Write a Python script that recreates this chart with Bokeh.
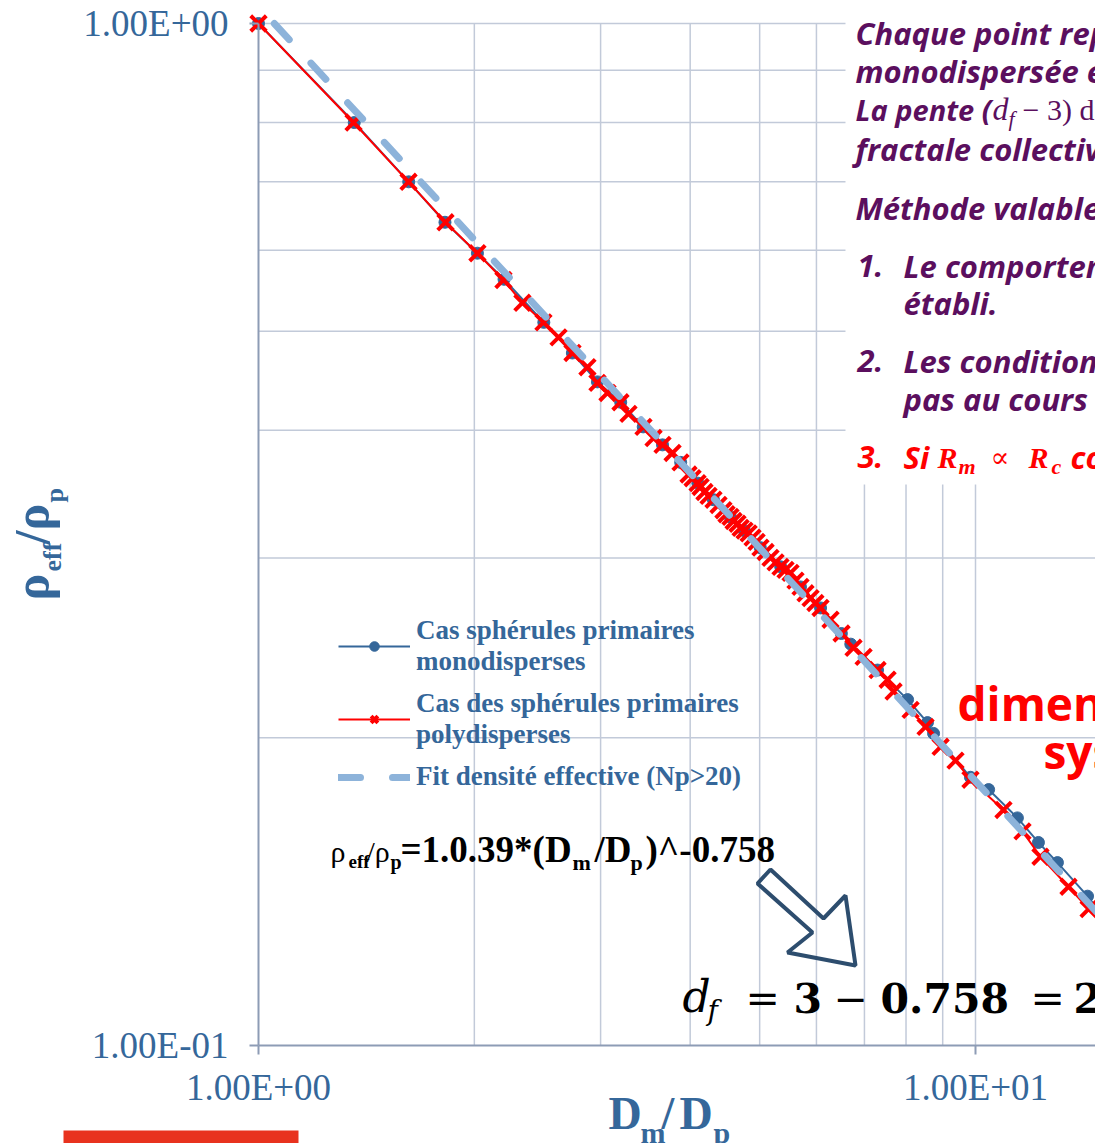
import math
from bokeh.plotting import figure
from bokeh.models import (FixedTicker, Label, BoxAnnotation, PolyAnnotation,
                          Legend, LegendItem)
from bokeh.embed import file_html
from bokeh.resources import INLINE

# ---------------- data ----------------
poly_x = [1.00, 1.357, 1.619, 1.823, 2.020, 2.196, 2.334, 2.497, 2.621, 2.741,
          2.876, 2.970, 3.067, 3.198, 3.281, 3.443, 3.556, 3.660, 3.780, 3.878,
          3.979, 4.031, 4.096, 4.136, 4.188, 4.243, 4.311, 4.381, 4.451, 4.495,
          4.553, 4.598, 4.657, 4.703, 4.763, 4.826, 4.887, 4.951, 5.013, 5.096,
          5.177, 5.262, 5.346, 5.433, 5.521, 5.610, 5.701, 5.793, 5.888, 5.980,
          6.079, 6.278, 6.504, 6.759, 6.981, 7.301, 7.540, 7.686, 8.119, 8.518,
          8.940, 9.378, 9.840, 10.94, 11.63, 12.32, 13.48, 14.38, 15.68]
poly_y = [1.000, 0.800, 0.700, 0.639, 0.596, 0.561, 0.533, 0.510, 0.493, 0.476,
          0.461, 0.445, 0.435, 0.426, 0.415, 0.403, 0.393, 0.387, 0.380, 0.372,
          0.362, 0.359, 0.355, 0.352, 0.348, 0.345, 0.342, 0.338, 0.334, 0.331,
          0.329, 0.326, 0.324, 0.321, 0.319, 0.317, 0.314, 0.311, 0.307, 0.304,
          0.300, 0.297, 0.294, 0.292, 0.290, 0.285, 0.281, 0.277, 0.274, 0.271,
          0.268, 0.261, 0.253, 0.245, 0.240, 0.233, 0.228, 0.222, 0.213, 0.205,
          0.196, 0.190, 0.182, 0.170, 0.162, 0.153, 0.143, 0.136, 0.128]

mono_x = [1.00, 1.36, 1.62, 1.82, 2.02, 2.20, 2.50, 2.74, 2.97, 3.20, 3.44,
          3.66, 3.88, 4.10, 4.31, 4.55, 4.76, 5.01, 5.35, 5.70, 6.08, 6.50,
          6.70, 7.30, 8.04, 8.57, 8.74, 9.84, 10.43, 11.44, 12.24, 13.01,
          14.33, 15.43]
mono_y = [1.000, 0.800, 0.700, 0.639, 0.596, 0.562, 0.510, 0.476, 0.446, 0.426,
          0.403, 0.387, 0.372, 0.355, 0.342, 0.329, 0.319, 0.307, 0.294, 0.281,
          0.268, 0.253, 0.247, 0.233, 0.218, 0.207, 0.202, 0.183, 0.178, 0.167,
          0.158, 0.151, 0.140, 0.131]

fit_x = [1.052, 15.0]
fit_y = [1.000, 0.1334]

x_ticks = [1, 10]
x_tick_labels = ["1.00E+00", "1.00E+01"]
y_ticks = [0.1, 1]
y_tick_labels = ["1.00E-01", "1.00E+00"]
x_minor = [2, 3, 4, 5, 6, 7, 8, 9]
y_minor = [0.2, 0.3, 0.4, 0.5, 0.6, 0.7, 0.8, 0.9]

legend_labels = ["Cas sphérules primaires\nmonodisperses",
                 "Cas des sphérules primaires\npolydisperses",
                 "Fit densité effective (Np>20)"]

# ---------------- layout: the frame is the whole canvas ----------------
W, H = 1095, 1143
DEC_X = 717.0   # px per decade, x
DEC_Y = 1022.0  # px per decade, y
PX0, PY0 = 258, 23   # canvas position of (1, 1)
K_BASE = 0.31        # baseline correction (fraction of font size)

def X(px):
    return 10 ** ((px - PX0) / DEC_X)

def Y(py):
    return 10 ** (-(py - PY0) / DEC_Y)

BLUE = "#35679a"
RED = "#ff0000"
FIT = "#8db3da"
GRID = "#c2cad9"
AXIS = "#8d9cb5"
PURPLE = "#5b0f5e"
SERIF = "Liberation Serif"
SANS = "Open Sans"

p = figure(width=W, height=H, x_axis_type="log", y_axis_type="log",
           x_range=(X(0), X(W)), y_range=(Y(H), Y(0)),
           output_backend="svg", toolbar_location=None,
           min_border=0)
p.outline_line_color = None
p.background_fill_color = "white"
p.grid.visible = False

p.xaxis.ticker = FixedTicker(ticks=x_ticks, minor_ticks=[])
p.yaxis.ticker = FixedTicker(ticks=y_ticks, minor_ticks=[])
p.xaxis.major_label_overrides = dict(zip(x_ticks, x_tick_labels))
p.yaxis.major_label_overrides = dict(zip(y_ticks, y_tick_labels))
p.xaxis.fixed_location = min(y_ticks)
p.yaxis.fixed_location = min(x_ticks)
p.xaxis.bounds = (min(x_ticks), X(W))
p.yaxis.bounds = (min(y_ticks), max(y_ticks))

for ax in (p.xaxis, p.yaxis):
    ax.axis_line_color = AXIS
    ax.axis_line_width = 2
    ax.major_tick_line_color = AXIS
    ax.major_tick_line_width = 2
    ax.major_tick_in = 0
    ax.major_tick_out = 9
    ax.minor_tick_in = 0
    ax.minor_tick_out = 0
    ax.major_label_text_font = SERIF
    ax.major_label_text_font_size = "37px"
    ax.major_label_text_color = BLUE
p.xaxis.major_label_standoff = 12
p.yaxis.major_label_standoff = 21

# grid lines from the tick arrays
gx = x_minor + [max(x_ticks)]
p.segment(x0=gx, y0=[min(y_ticks)] * len(gx), x1=gx, y1=[max(y_ticks)] * len(gx),
          line_color=GRID, line_width=1.5)
gy = y_minor + [max(y_ticks)]
p.segment(x0=[min(x_ticks)] * len(gy), y0=gy, x1=[X(W)] * len(gy), y1=gy,
          line_color=GRID, line_width=1.5)

# ---------------- series ----------------
bl = p.line(mono_x, mono_y, line_color=BLUE, line_width=2)
bc = p.scatter(mono_x, mono_y, marker="circle", size=12,
               fill_color=BLUE, line_color=BLUE)
rl = p.line(poly_x, poly_y, line_color=RED, line_width=2)
rx = p.scatter(poly_x, poly_y, marker="x", size=22, line_color=RED,
               line_width=4)
fl = p.line(fit_x, fit_y, line_color=FIT, line_width=7, line_dash="22 32",
            line_cap="round")

legend = Legend(items=[LegendItem(label=legend_labels[0], renderers=[bl, bc]),
                       LegendItem(label=legend_labels[1], renderers=[rl, rx]),
                       LegendItem(label=legend_labels[2], renderers=[fl])],
                location=(338, 351), padding=0, margin=0, spacing=11,
                glyph_width=72, glyph_height=24, label_standoff=6,
                border_line_color=None, background_fill_alpha=0,
                label_text_font=SERIF, label_text_font_style="bold",
                label_text_font_size="27px", label_text_color=BLUE,
                label_text_line_height=1.18)
p.add_layout(legend, "center")

# ---------------- annotations ----------------
p.add_layout(BoxAnnotation(left=X(845), bottom=Y(484), fill_color="white",
                           fill_alpha=1, line_color=None))
p.add_layout(BoxAnnotation(left=X(63), right=X(298), bottom=Y(H), top=Y(1130),
                           fill_color="#e8321e", fill_alpha=1, line_color=None))

def lab(px, py, text, size, color, font=SERIF, style="bold", angle=0.0):
    if angle:
        px = px - K_BASE * size
    else:
        py = py - K_BASE * size
    p.add_layout(Label(x=X(px), y=Y(py), text=text, text_font=font,
                       text_font_size=f"{size}px", text_font_style=style,
                       text_color=color, angle=angle, text_align="left",
                       text_baseline="alphabetic"))

BI = "bold italic"
lab(855, 42, "Chaque point représente une population", 31, PURPLE, SANS, BI)
lab(855, 80, "monodispersée en taille de mobilité.", 31, PURPLE, SANS, BI)
lab(855, 118, "La pente (", 29, PURPLE, SANS, BI)
lab(992, 118, "d", 32, PURPLE, SERIF, "italic")
lab(1008, 125, "f", 22, PURPLE, SERIF, "italic")
lab(1022, 118, "− 3) donne la dimension", 30, PURPLE, SERIF, "normal")
lab(855, 158, "fractale collective.", 31, PURPLE, SANS, BI)
lab(855, 217, "Méthode valable si :", 31, PURPLE, SANS, BI)
lab(857, 275, "1.", 31, PURPLE, SANS, BI)
lab(903, 275, "Le comportement asymptotique est", 31, PURPLE, SANS, BI)
lab(903, 312, "établi.", 31, PURPLE, SANS, BI)
lab(857, 370, "2.", 31, PURPLE, SANS, BI)
lab(903, 370, "Les conditions ne changent", 31, PURPLE, SANS, BI)
lab(903, 408, "pas au cours de la croissance.", 31, PURPLE, SANS, BI)
lab(857, 466, "3.", 31, RED, SANS, BI)
lab(903, 466, "Si", 31, RED, SANS, BI)
lab(937, 466, "R", 30, RED, SERIF, BI)
lab(958, 473, "m", 22, RED, SERIF, BI)
lab(990, 466, "∝", 28, RED, "DejaVu Serif", "normal")
lab(1028, 466, "R", 30, RED, SERIF, BI)
lab(1051, 473, "c", 22, RED, SERIF, BI)
lab(1070, 466, "constant", 31, RED, SANS, BI)

lab(957, 717, "dimension fractale", 46, RED, SANS, "bold")
lab(1043, 765, "système", 46, RED, SANS, "bold")

# formula
BLACK = "#000000"
lab(330, 860, "ρ", 30, BLACK, SERIF, "normal")
lab(348, 867, "eff", 19, BLACK, SERIF, "bold")
lab(366, 860, "/ρ", 30, BLACK, SERIF, "normal")
lab(390, 868, "p", 20, BLACK, SERIF, "bold")
lab(400, 860, "=1.0.39*(D", 37, BLACK, SERIF, "bold")
lab(572, 869, "m", 22, BLACK, SERIF, "bold")
lab(594, 860, "/D", 37, BLACK, SERIF, "bold")
lab(630, 869, "p", 22, BLACK, SERIF, "bold")
lab(645, 860, ")^-0.758", 37, BLACK, SERIF, "bold")

# d_f = 3 - 0.758 = 2...
DS = "DejaVu Serif"
lab(682, 1010, "d", 44, BLACK, DS, "italic")
lab(707, 1019, "f", 28, BLACK, DS, "italic")
lab(745, 1010, "=", 41, BLACK, DS, "normal")
lab(793, 1010, "3", 41, BLACK, DS, "bold")
lab(833, 1010, "−", 41, BLACK, DS, "normal")
lab(880, 1010, "0.", 41, BLACK, DS, "bold")
lab(923, 1010, "758", 41, BLACK, DS, "bold")
lab(1030, 1010, "=", 41, BLACK, DS, "normal")
lab(1073, 1010, "2.242", 41, BLACK, DS, "bold")

# arrow
p.add_layout(PolyAnnotation(
    xs=[X(757), X(770), X(823), X(845), X(855), X(787), X(812)],
    ys=[Y(883), Y(869), Y(918), Y(895), Y(965), Y(952), Y(932)],
    fill_alpha=0, line_color="#2d4d6e", line_alpha=1, line_width=4))

# axis titles
A = math.pi / 2
lab(47, 600, "ρ", 50, BLUE, SERIF, "bold", A)
lab(60, 571, "eff", 26, BLUE, SERIF, "bold", A)
lab(47, 544, "/ρ", 50, BLUE, SERIF, "bold", A)
lab(62, 502, "p", 26, BLUE, SERIF, "bold", A)

lab(608, 1127, "D", 46, BLUE, SERIF, "bold")
lab(640, 1141, "m", 30, BLUE, SERIF, "bold")
lab(661, 1127, "/", 46, BLUE, SERIF, "bold")
lab(679, 1127, "D", 46, BLUE, SERIF, "bold")
lab(713, 1141, "p", 30, BLUE, SERIF, "bold")

open("out.html", "w").write(file_html(p, INLINE))
